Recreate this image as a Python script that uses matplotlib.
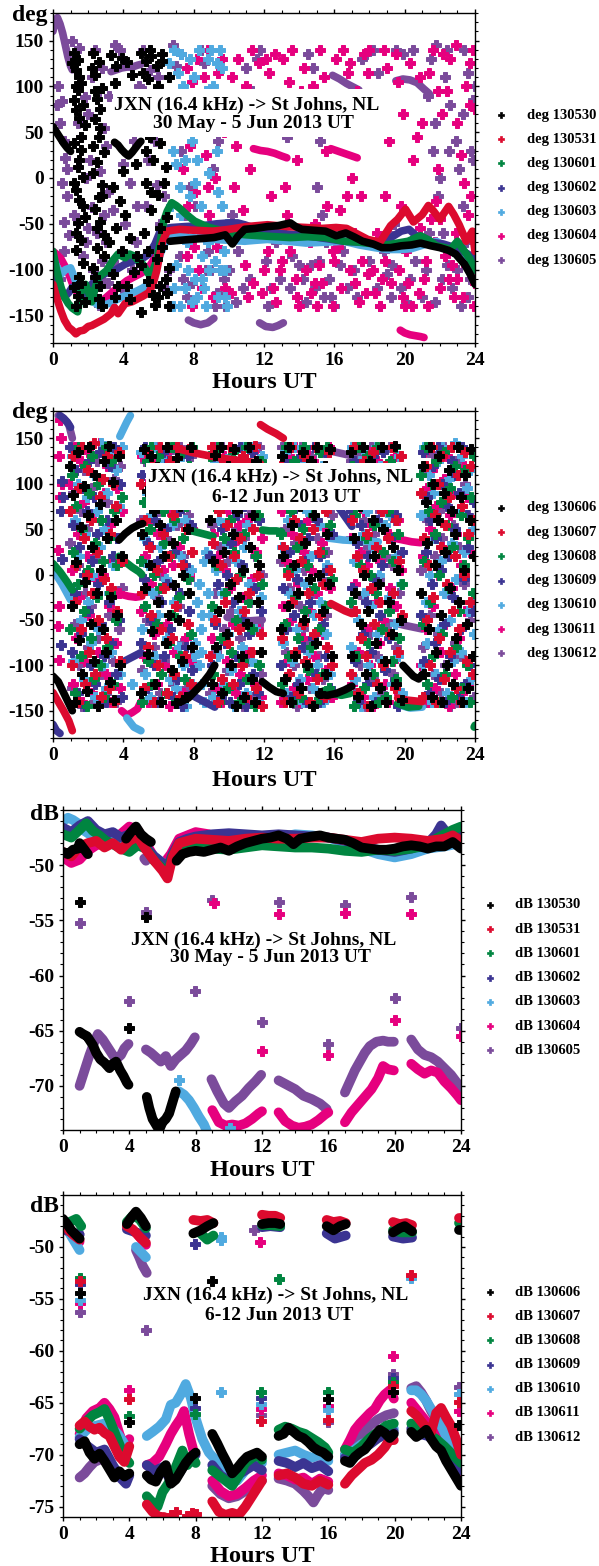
import numpy as np
import matplotlib
matplotlib.use('Agg')
import matplotlib.pyplot as plt
from matplotlib.lines import Line2D
from matplotlib.patches import Rectangle
from matplotlib.ticker import MultipleLocator, FixedLocator

plt.rcParams['font.family'] = ['Liberation Serif', 'DejaVu Serif']
plt.rcParams['font.weight'] = 'bold'
plt.rcParams['axes.unicode_minus'] = False

W, H = 599, 1566

# series colours, same order for both weeks
series_colors = ['#000000', '#DC0A2E', '#008540', '#3B3492', '#50AAE0', '#E6007E', '#7B4B9B']
days_a = ['130530', '130531', '130601', '130602', '130603', '130604', '130605']
days_b = ['130606', '130607', '130608', '130609', '130610', '130611', '130612']

deg_yticks = [-150, -100, -50, 0, 50, 100, 150]
db_a_yticks = [-70, -65, -60, -55, -50]
db_b_yticks = [-75, -70, -65, -60, -55, -50]

# ---------------- phase, 30 May - 5 Jun ----------------
deg_a_track_130530 = [
    [(0.0, 56), (0.2, 50), (0.4, 44), (0.6, 38), (0.8, 33), (1.0, 29)],
    [(3.5, 39), (3.7, 36), (3.9, 31), (4.1, 27), (4.3, 24), (4.5, 28), (4.7, 33), (4.9, 38), (5.0, 40)],
    [(6.65, -69), (7.2, -68), (7.84, -67), (8.5, -66), (9.15, -65), (9.8, -62), (10.2, -72), (10.5, -64),
     (10.9, -56), (11.5, -55), (12.2, -53), (12.8, -52), (13.5, -49), (13.8, -53), (14.15, -56), (14.8, -57),
     (15.5, -58), (16.1, -63), (16.65, -60), (17.1, -64), (17.6, -69), (18.2, -72), (18.7, -76), (19.2, -76),
     (19.8, -74), (20.4, -73), (20.9, -71), (21.5, -74), (22.0, -76), (22.5, -79), (22.9, -83), (23.4, -94),
     (23.7, -104), (24.0, -116)],
]
deg_a_track_130531 = [
    [(0.0, -116), (0.2, -130), (0.45, -145), (0.65, -155), (0.9, -163), (1.1, -166), (1.3, -170), (1.5, -167),
     (1.75, -166), (2.0, -162), (2.2, -161), (2.6, -157), (2.9, -154), (3.3, -148), (3.5, -141), (3.7, -148),
     (4.1, -137), (4.5, -135), (4.8, -132), (5.1, -129), (5.45, -125), (5.7, -115), (5.9, -101), (6.05, -86),
     (6.2, -72), (6.35, -64), (6.5, -58), (6.8, -57), (7.2, -56), (8.0, -57), (9.1, -58), (10.0, -56),
     (11.0, -53), (12.2, -51), (13.3, -53), (14.4, -54), (15.3, -55), (16.1, -54), (16.7, -55), (17.3, -61),
     (17.9, -67), (18.6, -70), (19.2, -52), (19.6, -45), (20.05, -34), (20.5, -48), (21.0, -40), (21.35, -30),
     (21.6, -35), (22.0, -45), (22.5, -31), (22.8, -40), (23.1, -51), (23.5, -69), (23.85, -58), (24.0, -80)],
]
deg_a_track_130601 = [
    [(0.0, -80), (0.2, -100), (0.45, -119), (0.65, -130), (0.87, -137), (1.1, -142), (1.4, -146), (1.63, -119),
     (1.85, -116), (2.05, -126), (2.2, -135), (2.4, -120), (2.6, -108), (3.05, -101), (3.4, -90), (3.7, -83),
     (4.1, -87), (4.35, -83), (4.6, -85), (4.85, -90), (5.1, -94), (5.45, -105), (5.7, -100), (5.9, -90),
     (6.1, -70), (6.3, -47), (6.5, -36), (6.75, -27), (7.0, -30), (7.2, -33), (7.6, -40), (8.05, -47),
     (8.5, -51), (8.9, -54), (9.5, -57), (10.0, -60), (11.0, -62), (11.8, -63), (12.6, -64), (13.5, -65),
     (14.5, -64), (15.5, -65), (16.55, -69), (17.4, -70), (18.3, -72), (19.0, -73), (19.6, -71), (20.2, -69),
     (20.9, -63), (21.4, -68), (21.8, -74), (22.3, -76), (22.6, -78), (23.0, -69), (23.4, -80), (23.7, -88),
     (24.0, -101)],
]
deg_a_track_130602 = [
    [(0.0, -98), (0.3, -114), (0.65, -130), (0.9, -125), (1.1, -119), (1.4, -122), (1.75, -126), (2.2, -116),
     (2.6, -108), (3.0, -104), (3.5, -101), (4.1, -94), (4.5, -91), (4.8, -89), (5.15, -87), (5.45, -83),
     (5.8, -72), (6.1, -58), (6.4, -55), (6.75, -54), (7.5, -53), (8.5, -52), (9.3, -50), (10.0, -49),
     (10.5, -49), (10.9, -51), (11.5, -55), (12.2, -58), (13.3, -61), (14.4, -63), (15.5, -66), (16.55, -69),
     (17.6, -70), (18.7, -71), (19.3, -64), (19.8, -58), (20.25, -56), (20.6, -62), (20.9, -69), (21.5, -70),
     (22.2, -72), (22.7, -75), (23.1, -78), (23.6, -83), (24.0, -89)],
]
deg_a_track_130603 = [
    [(0.0, -87), (0.2, -96), (0.45, -105), (0.7, -100), (1.0, -98), (1.2, -108), (1.4, -119), (1.7, -125),
     (2.0, -130), (2.3, -135), (2.6, -139), (3.0, -138), (3.3, -136), (3.6, -133), (3.9, -130), (4.3, -127),
     (4.8, -123), (5.1, -120), (5.45, -116), (5.8, -102), (6.1, -83), (6.4, -70), (6.75, -62), (7.2, -63),
     (7.84, -65), (8.5, -66), (9.15, -67), (10.0, -68), (10.9, -69), (11.5, -68), (12.2, -67), (13.3, -69),
     (14.4, -71), (15.5, -70), (16.55, -69), (17.4, -73), (18.3, -76), (19.0, -78), (19.8, -78), (20.4, -77),
     (20.9, -74), (21.4, -71), (21.8, -69), (22.3, -74), (22.7, -77), (23.1, -81), (23.6, -87), (24.0, -94)],
]
deg_a_track_130604 = [
    [(0.0, -80), (0.2, -83), (0.45, -88), (0.7, -97), (0.9, -105), (1.1, -115), (1.3, -123), (1.6, -128),
     (1.9, -131), (2.2, -127), (2.5, -131), (2.8, -134), (3.1, -129), (3.4, -124), (3.8, -118), (4.2, -112),
     (4.6, -108), (5.0, -104), (5.4, -99), (5.7, -90), (6.0, -78), (6.3, -64), (6.6, -58)],
    [(11.4, 32), (11.8, 30), (12.2, 29), (12.6, 27), (13.0, 24), (13.3, 22)],
    [(15.8, 32), (16.1, 30), (16.4, 28), (16.7, 26), (17.0, 24), (17.3, 22)],
    [(19.75, -166), (20.0, -169), (20.3, -171), (20.6, -172), (20.9, -173), (21.1, -174)],
]
deg_a_track_130605 = [
    [(0.0, 160), (0.1, 172), (0.25, 175), (0.4, 168), (0.55, 158), (0.7, 145), (0.85, 132), (1.0, 122), (1.1, 118)],
    [(3.3, 116), (3.6, 118), (3.9, 120), (4.2, 121), (4.5, 121), (4.8, 123), (5.0, 124)],
    [(7.7, -155), (8.0, -158), (8.4, -160), (8.8, -158), (9.15, -153)],
    [(11.75, -158), (12.1, -162), (12.5, -163), (12.8, -161), (13.1, -158)],
    [(15.9, 112), (16.3, 108), (16.7, 103), (17.1, 99), (17.4, 96)],
    [(19.5, 106), (19.9, 108), (20.3, 107), (20.7, 104), (21.1, 97), (21.4, 92)],
]

deg_a_pts_130530 = [
    (1.2, 136), (1.4, 129), (1.3, 118), (1.5, 110), (1.6, 104), (1.4, 96), (1.7, 80), (1.3, 74), (1.5, 66),
    (1.8, 58), (1.2, 38), (1.6, 31), (1.4, 12), (1.7, 1), (1.3, -13), (1.5, -24), (1.8, -42), (1.4, -49),
    (1.6, -68), (1.3, -79), (1.7, -93), (1.5, -108), (1.2, -119), (1.4, -129), (1.3, -140),
    (2.3, 136), (2.6, 126), (2.4, 112), (2.8, 98), (2.5, 86), (2.7, 75), (2.4, 64), (2.6, 45), (2.9, 28),
    (2.5, 18), (2.3, 5), (2.8, -8), (2.6, -21), (2.4, -34), (2.7, -48), (2.9, -62), (2.5, -76), (2.3, -98),
    (2.7, -118), (2.6, -132),
    (3.3, 134), (3.6, 122), (3.9, 131), (4.2, 127), (3.5, 104), (4.5, 112), (3.4, -10), (3.8, -25),
    (4.1, -40), (3.6, -55), (4.4, -65), (3.9, -80), (4.6, -102), (4.2, -118), (3.5, -130), (4.0, 8), (4.7, 15),
    (5.0, 136), (5.3, 128), (5.6, 133), (5.9, 122), (6.2, 128), (5.4, 108), (6.0, 100), (5.2, 80), (5.8, 72),
    (6.3, 60), (5.5, 45), (6.1, 38), (5.7, 20), (6.4, 12), (5.3, -5), (6.0, -18), (5.6, -35), (6.5, -42),
    (5.2, -60), (6.2, -75), (5.9, -88), (6.6, -98), (5.4, -112), (6.1, -118), (6.6, -140), (5.7, -128), (5.0, -146),
    (1.1, 125), (1.3, 100), (1.2, 85), (1.6, 45), (1.5, 20), (1.2, -5), (1.7, -30), (1.3, -60), (1.6, -115),
    (1.8, -135), (2.2, 120), (2.4, 95), (2.7, 55), (2.3, 35), (2.8, -20), (2.5, -55), (2.9, -85), (2.4, -108),
    (2.8, -140), (3.2, -70), (3.4, -105), (3.7, -118), (4.4, -132), (4.8, -85), (5.1, 115), (5.5, 140),
    (5.8, 95), (6.0, 55), (5.3, 30), (6.3, -5), (5.6, -15), (6.1, -55), (5.4, -80), (6.4, -110), (5.8, -138),
    (6.5, -125), (6.2, 135), (6.6, 110), (5.0, -95), (6.0, -130),
]
deg_a_pts_130603 = [
    (6.6, 125), (6.9, 140), (7.1, 115), (7.4, 100), (6.8, 30), (7.0, 15), (7.2, -10), (6.7, -30), (7.3, -40),
    (7.0, -95), (7.5, -120), (7.8, 130), (8.0, 110), (7.9, 40), (8.2, 20), (8.1, -5), (8.4, -30), (8.3, -55),
    (7.7, -100), (8.5, -110), (8.6, -120), (8.8, -70), (8.2, -130), (9.0, 140), (9.3, 125), (9.1, 100),
    (9.4, -15), (9.6, -30), (9.2, -90), (9.5, -100), (9.8, -130), (9.9, -140), (9.7, -80), (8.7, -140), (8.9, 5),
    (6.6, -60), (6.9, -120), (7.1, 60), (7.3, 135), (7.6, -70), (7.9, -135), (8.0, 70), (8.3, 140), (8.5, -85),
    (8.7, 95), (8.9, -100), (9.1, -60), (9.3, 30), (9.4, -130), (9.6, 120), (9.8, -100), (9.9, -50), (7.5, 20),
    (6.8, -140), (8.1, -110), (9.0, 60), (7.2, -140), (9.5, 140), (8.8, 130), (7.8, -20),
]
deg_a_pts_130604 = [
    (7.3, 135), (7.6, 120), (7.9, 105), (7.5, 90), (8.0, 60), (7.8, 35), (7.4, 10), (8.1, -15), (7.7, -30),
    (8.3, -100), (8.5, -120), (8.2, 130), (8.8, 140), (8.6, 110), (9.0, 95), (8.7, 25), (9.2, 0), (8.9, -40),
    (9.5, -100), (9.3, -75), (9.8, -120), (9.6, 130),
    (10.0, 60), (10.2, 110), (10.5, 130), (10.3, -10), (10.6, -60), (10.9, -95), (11.1, -130), (11.4, -115),
    (11.0, 100), (11.3, 140), (11.7, 125), (12.0, -100), (12.2, -80), (12.5, -120), (12.8, -60), (12.3, 115),
    (12.6, 135), (12.9, 90), (13.1, 130), (13.4, 105), (13.2, -10), (13.5, -80), (13.8, -110), (14.0, -140),
    (13.7, 60), (14.1, 95), (14.3, 120),
    (14.4, -100), (14.6, -70), (14.9, -50), (14.7, -125), (15.0, -140), (15.2, 140), (15.4, 110), (15.6, -30),
    (15.8, -60), (16.0, -90), (16.2, -75), (16.4, -120), (16.1, 130), (16.5, 140), (16.8, 115), (16.7, -20),
    (17.0, 0), (17.2, -115), (17.4, -135), (17.6, -90), (17.9, 115), (17.7, 135), (18.0, 140),
    (18.3, -125), (18.6, -140), (18.4, -60), (18.9, -20), (19.1, 40), (19.3, 75), (19.0, 120), (19.5, 135),
    (19.7, -100), (19.9, -130), (20.1, -80), (20.2, -115), (20.4, -140), (20.5, 20), (20.7, 45), (20.9, -55),
    (21.1, -110), (21.2, -90), (21.4, 115), (21.6, 140), (21.9, 95), (22.1, 70), (21.8, -25), (22.0, -45),
    (22.3, -85), (22.5, -110), (22.8, -130), (22.6, 130), (22.9, 145), (23.0, 60), (23.2, 25), (23.4, -5),
    (23.6, -40), (23.8, -20), (23.5, 100), (23.7, 125), (23.9, -85), (24.0, 75), (23.95, -140), (23.85, -100),
    (7.4, -60), (7.6, -85), (7.9, -140), (8.0, -75), (8.3, 70), (8.5, 85), (8.8, -10), (9.1, -130), (9.4, 115),
    (9.7, 50), (9.9, -55), (10.1, -125), (10.4, 35), (10.7, 90), (10.8, -35), (11.2, 10), (11.5, -60), (11.8, 75),
    (12.1, 130), (12.4, -20), (12.7, -135), (13.0, -90), (13.3, -40), (13.6, 140), (13.9, 20), (14.2, -60),
    (14.5, 70), (14.8, 100), (15.1, -95), (15.3, -115), (15.5, 30), (15.7, 85), (15.9, -140), (16.3, -35),
    (16.6, 60), (16.9, -100), (17.1, -60), (17.3, 95), (17.5, -20), (17.8, -125), (18.1, -70), (18.2, -100),
    (18.5, 90), (18.7, -110), (18.8, 140), (19.2, -115), (19.4, -75), (19.6, 105), (19.8, -30), (20.0, -140),
    (20.3, 125), (20.6, -65), (20.8, -125), (21.0, 60), (21.3, -140), (21.5, -45), (21.7, -70), (22.0, -120),
    (22.2, 135), (22.4, 95), (22.7, -95), (23.0, -110), (23.1, -75), (23.3, -130), (23.5, -95), (23.7, 80),
    (23.9, 140), (24.0, -115), (22.9, -60), (21.9, 10), (20.9, 110), (19.9, 70), (18.9, -90), (17.9, -105),
    (16.9, 125), (15.9, -80), (14.9, -115), (13.9, -130), (12.9, -100), (11.9, -125),
]
deg_a_pts_130605 = [
    (0.3, 100), (0.5, 84), (0.4, 60), (0.6, 40), (0.7, 22), (0.5, -5), (0.8, -20), (0.6, -48), (0.9, -62), (0.4, -110),
    (1.1, 150), (1.5, 142), (1.8, 88), (2.0, 70), (1.6, 45), (2.1, 20), (1.9, 0), (2.2, -32), (2.0, -55),
    (1.7, -85), (2.3, -100), (2.0, -125), (2.4, 140), (2.8, 120), (2.6, 95), (2.9, 55), (3.0, 35), (2.7, 8),
    (3.1, -15), (2.9, -40), (3.0, -70), (2.8, -90), (3.1, -115), (2.6, -138),
    (3.5, 145), (3.8, 140), (4.3, 55), (4.6, 40), (4.0, 15), (4.4, -5), (4.8, -30), (4.1, -50), (4.7, -70),
    (5.1, 140), (5.5, 118), (5.2, 95), (5.7, 65), (5.4, 20), (5.9, -8), (6.1, -50), (6.4, -120), (6.6, -100),
    (6.8, 145), (7.0, 122),
    (7.2, -85), (7.4, -110), (7.6, -130), (7.5, -40), (7.8, -10), (7.3, 30), (7.7, 60), (8.2, 90), (8.6, 125),
    (8.4, 140), (8.8, -80), (9.0, -100), (9.3, -125), (8.5, -60), (9.1, 10), (9.4, 40), (9.6, 130), (9.8, -140),
    (9.7, -110),
    (10.2, -40), (10.5, -80), (10.8, -120), (11.0, 120), (11.3, 95), (11.6, 130), (12.1, -90), (12.4, -120),
    (12.7, -70), (13.0, 60), (13.3, 45), (13.6, -85), (13.9, -130), (14.2, -110),
    (14.5, 135), (14.8, 120), (15.0, 70), (15.2, 40), (15.0, -10), (15.3, -40), (15.5, -70), (14.7, -95),
    (15.8, -130), (16.3, -95), (16.7, -120), (17.1, -100), (17.3, -130), (17.5, 60), (17.8, 85), (17.6, 130),
    (18.2, 140), (18.5, 115), (18.8, -80), (19.0, -105), (19.2, -130), (19.4, -50), (19.6, -75), (19.9, 135),
    (20.3, -110), (20.6, -90), (21.0, -130), (21.3, 90), (21.5, 130), (21.8, 145), (21.7, 60), (21.6, 30),
    (22.0, 0), (21.9, -20), (22.2, -60), (22.4, -95), (22.7, -120), (22.3, 110), (22.6, 80), (22.9, 40),
    (23.1, 10), (23.3, -30), (23.5, -70), (23.7, -110), (23.4, 140), (23.6, 115), (23.9, 85), (23.8, 30),
    (24.0, -60), (23.2, -140),
    (0.2, 80), (0.6, -80), (0.8, 10), (1.2, -40), (1.4, 60), (1.6, -120), (1.9, -70), (2.2, 110), (2.5, -60),
    (2.7, -110), (3.2, 90), (3.4, -35), (3.6, -95), (3.9, -120), (4.2, 80), (4.5, -100), (4.9, 100), (5.3, -30),
    (5.6, -80), (5.8, 40), (6.0, 110), (6.3, -20), (6.7, -140), (7.0, -60), (7.9, -115), (8.1, -30), (8.7, -100),
    (9.2, -140), (9.5, 80), (10.0, -100), (10.4, -135), (10.7, -60), (11.2, -110), (11.8, 140), (12.2, -140),
    (12.9, -110), (13.5, -120), (14.0, -95), (14.4, -135), (14.9, -120), (15.1, -90), (15.4, -130), (15.7, -110),
    (16.0, -140), (16.5, -80), (17.0, -60), (17.2, -115), (17.8, 135), (18.0, -90), (18.4, -120), (18.6, -140),
    (19.1, -60), (19.3, -95), (19.5, 140), (19.8, -120), (20.1, -135), (20.5, 140), (21.2, -100), (21.4, -60),
    (21.7, -135), (22.1, -110), (22.5, 30), (22.8, -80), (23.0, -100), (23.3, 70), (23.6, -130), (23.8, -90),
    (23.9, 20), (24.0, 100), (22.4, 140),
]

deg_a_tracks = [deg_a_track_130530, deg_a_track_130531, deg_a_track_130601, deg_a_track_130602,
                deg_a_track_130603, deg_a_track_130604, deg_a_track_130605]
deg_a_pts = [deg_a_pts_130530, [], [], [], deg_a_pts_130603, deg_a_pts_130604, deg_a_pts_130605]

# ---------------- phase, 6-12 Jun ----------------
# hours where the phase is scattered; values are evenly spaced in time across each span
deg_b_spans = [(0.95, 3.95), (4.95, 7.95), (8.9, 11.95), (12.9, 15.9), (16.9, 19.9), (20.9, 24.0)]

deg_b_scatter_130606 = [
    [120, -35, 88, -140, 14, 135, -72, 52, -110, 97, -8, -128, 66, 140, -55, 30, -95, 110, -20, -145, 78, 5, -60, 125, -85, 40, 142, -118, -25, 102, -138, 60, -45, 130, -100, 20],
    [-130, 45, 138, -15, 92, -88, 10, 130, -62, 70, -120, 118, -30, 55, -140, 102, 20, -75, 140, -45, 85, -105, 35, -12, -142, 128, -50, 75, -95, 0, 112, -135, 50, -20, 140, -80],
    [60, -120, 15, 132, -80, 100, -40, 140, -130, 25, 80, -65, 120, -10, -100, 45, 138, -145, 70, -25, 110, -90, 5, -135, 90, -55, 140, 30, -115, 65, -140, 125, -30, 10, -85, 105],
    [-60, 130, 20, -115, 95, -35, 140, -140, 55, 10, -90, 115, -20, 75, -125, 135, -50, 35, -100, 100, -5, 125, -145, 65, -75, 140, 0, -130, 85, -40, 120, -110, 45, -10, 138, -90],
    [135, -90, 40, -20, 110, -135, 75, -55, 140, 0, -110, 90, -40, 125, -145, 60, 20, -75, 105, -10, -125, 140, 50, -95, -140, 80, -30, 115, -65, 30, 142, -120, 5, 95, -50, -138],
    [-20, 120, -110, 80, 35, -60, 140, -135, 100, 10, -85, 60, 130, -45, -140, 90, 25, -100, 115, -15, 70, -120, 45, -70, 140, -30, 85, -140, 5, 110, -55, -125, 60, 138, -90, 20],
]
deg_b_scatter_130607 = [
    [70, -100, 130, -30, 10, -140, 95, -60, 140, 40, -120, 0, 115, -85, 60, -20, 145, -110, 25, -50, 85, -135, 105, -5, -70, 130, -125, 45, -15, 100, -140, 75, -40, 135, -95, 15],
    [100, -20, -125, 60, 135, -80, 30, -45, 120, -140, 75, 5, -100, 140, -60, 45, -15, 90, -130, 20, 125, -70, 65, -110, -35, 140, 85, -135, 10, 110, -90, 50, -55, 138, -120, 25],
    [-90, 140, 35, -50, 100, -140, 70, 10, -115, 125, -30, 55, -75, 140, 90, -120, 20, -5, 110, -60, 40, -100, 130, -40, -135, 80, -20, 115, -85, 50, 142, -125, 0, 95, -65, -145],
    [120, -70, 30, -140, 85, 0, -110, 140, -30, 60, -85, 105, -130, 40, 15, -55, 130, -95, 80, -20, -140, 95, 50, -65, 140, -115, 25, -45, 110, -10, -135, 70, -80, 135, 5, -100],
    [-110, 60, 140, -40, 20, -130, 100, -70, 5, 125, -90, 45, -145, 80, -15, 135, -55, 30, -120, 110, -30, 70, -100, 120, -140, 40, 90, -65, 140, -20, -125, 60, -85, 15, 130, -45],
    [90, -135, 40, 120, -50, 10, -100, 140, -25, 65, -140, 100, -70, 30, 130, -115, 55, -10, 85, -85, 140, -40, 20, -125, 110, -60, -140, 75, 0, 135, -95, 45, -30, 120, -110, 60],
]
deg_b_scatter_130608 = [
    [-60, 110, 25, -130, 75, -10, 140, -90, 50, -40, 120, -145, 5, 90, -70, 130, -115, 35, -25, 100, -100, 60, 15, -135, 140, -80, 40, -20, 125, -120, 70, -50, 10, 135, -95, 85],
    [15, -140, 80, -35, 125, -95, 50, 140, -120, 0, 95, -55, 130, -15, -110, 70, 35, -130, 110, -75, 20, 140, -45, 60, -140, 100, -25, -90, 135, 40, -115, 75, -5, 120, -65, 140],
    [130, -35, -110, 75, 10, 140, -140, -70, 95, 40, -20, 120, -125, 60, -85, 135, 25, -50, 105, -140, 0, 80, -95, 45, 140, -115, -30, 90, -60, 115, -145, 20, 65, -100, 125, -10],
    [45, -120, 110, -55, 140, 5, -90, 70, -140, 125, -25, 30, -70, 95, -135, 50, 140, -40, 10, -105, 120, -80, 65, -15, -140, 100, -60, 135, 25, -110, 80, -35, 140, -125, 55, -5],
    [-30, 120, -145, 65, -90, 140, 10, -55, 95, -125, 40, 130, -75, 0, 110, -110, 55, -20, 140, -140, 80, -60, 25, 100, -135, 70, -40, 125, -95, 15, 140, -115, 45, -70, 105, -10],
    [110, -55, 15, 140, -120, 70, -30, 100, -90, 45, 125, -140, 0, 80, -65, 135, -110, 55, -15, 95, -135, 30, 120, -80, 140, -40, 65, -125, 10, 115, -100, 40, -140, 85, -20, 130],
]
deg_b_scatter_130609 = [
    [140, -85, 55, -20, 115, -130, 30, -65, 95, 0, -145, 70, -40, 125, -100, 15, 85, -120, 45, -10, 135, -55, 105, -90, -140, 60, -30, 120, -75, 20, 140, -110, 40, -50, 100, -135],
    [-75, 110, -5, 140, -125, 35, 85, -50, 120, -100, 60, -140, 15, 100, -30, 135, -90, 50, -10, 125, -60, 80, -135, 25, 140, -115, 70, -20, -145, 95, 10, -80, 130, -40, 55, -105],
    [20, -100, 130, -55, 85, -10, 140, -135, 50, 115, -75, 0, 95, -140, 35, -30, 125, -90, 65, -120, 140, 10, -50, 75, -145, 105, -65, 30, 135, -110, -15, 90, -130, 60, -40, 120],
    [-100, 85, -15, 125, -60, 140, 25, -135, 70, -45, 110, -5, -120, 55, 130, -80, 15, 95, -140, 40, -30, 115, -70, 140, -110, 60, -140, 20, 100, -55, 135, -90, 5, 75, -125, 45],
    [70, -15, 125, -95, 35, -140, 140, 55, -65, 100, -30, -120, 20, 85, -85, 130, -5, -140, 60, 115, -45, 10, 135, -105, -135, 90, -70, 40, 140, -20, -115, 65, -145, 110, -50, 25],
    [-45, 135, -95, 25, 85, -130, 60, -10, 120, -75, 40, 140, -115, 5, 100, -55, -140, 75, 20, -90, 125, -25, 50, 110, -135, 90, -60, 140, -5, -120, 65, 30, -100, 135, -40, 80],
]
deg_b_scatter_130610 = [
    [-15, 130, -95, 60, -140, 100, 20, -50, 140, -115, 45, 85, -30, 125, -75, 0, 110, -135, 70, -60, 30, 145, -100, 50, -125, 90, -20, 135, -85, 10, -140, 115, -45, 75, -110, 140],
    [135, -60, 40, -110, 90, 10, -135, 65, -20, 140, -90, 115, -45, 30, -140, 80, 125, -5, -70, 100, -115, 55, 140, -30, -125, 85, -80, 20, 130, -100, 60, -145, 110, -40, 5, -120],
    [-45, 80, -135, 125, 5, -90, 60, 140, -20, -120, 100, 35, -65, 130, -105, 75, -145, 15, 120, -40, 90, -80, 140, 30, -130, 55, -10, 110, -95, 140, -60, 20, -140, 85, -25, 130],
    [95, 30, -75, 135, -130, 60, -20, 115, -95, 140, 5, -60, 85, -115, 40, -140, 125, -10, 70, -85, 100, 20, -125, -45, 140, -100, 55, -30, 120, -140, 80, -65, 10, 135, -110, 45],
    [-80, 140, 15, -115, 90, -50, 125, -145, 45, -20, 135, 70, -100, 105, -35, 30, -135, 140, -65, 0, 120, -95, 85, 55, -140, 110, -25, 65, -120, 140, -55, 20, -90, 130, -10, -130],
    [65, -100, 140, -30, -75, 110, 0, -140, 90, 40, -110, 125, -60, 15, 140, -20, 80, -130, 105, -50, 35, -95, 145, -5, -125, 70, -85, 130, 25, -140, 95, -40, 115, -115, 50, -65],
]
deg_b_scatter_130611 = [
    [100, 5, -120, 140, -70, 45, -25, 125, -140, 80, -95, 20, 135, -45, 65, -130, 110, -5, 30, -85, 145, -60, 0, 90, -110, 120, -35, 55, -140, 15, 130, -75, 95, -20, -125, 70],
    [-40, 130, -90, 20, 100, -140, 60, -10, 140, -65, 125, -120, 45, -30, 90, 5, -100, 135, -55, 70, -145, 115, 10, -85, 140, -115, 30, -20, 105, -130, 75, -70, 135, 0, -95, 50],
    [110, -70, 45, 140, -125, 20, -40, 90, -140, 130, 5, -95, 70, -15, 125, -55, 35, -130, 100, 55, -110, 140, -25, 80, -140, 60, -85, 115, -5, 135, -120, 25, -60, 95, -135, 40],
    [-140, 70, -35, 100, 15, -95, 130, -50, 45, -125, 140, 80, -10, -140, 110, -70, 25, 135, -115, 60, -40, 5, 125, -90, 140, -20, 90, -130, 35, -65, 120, -105, 50, 140, -15, -135],
    [40, -120, 100, -10, 140, -85, 25, 115, -135, 70, -60, 10, 135, -100, 55, -145, 90, -30, 125, -75, 15, 140, -50, -120, 80, -140, 45, -15, 110, -95, 130, -35, 60, -130, 5, 95],
    [-100, 20, 135, -60, 95, -140, 50, 115, -35, -125, 75, 0, 140, -85, 30, 105, -55, 130, -145, 65, -15, 90, -110, 45, 140, -70, 10, -130, 120, -40, 85, -120, 25, 135, -90, 60],
]
deg_b_scatter_130612 = [
    [35, -125, 90, -55, 130, 10, -100, 70, -145, 115, -20, 50, -80, 140, -35, 95, -140, 20, 125, -70, 60, -110, 140, -5, -130, 80, -45, 135, 15, -95, 105, -140, 40, -60, 120, -15],
    [60, -105, 15, 125, -50, 90, -140, 30, 105, -80, 140, -25, 70, -130, 0, 120, -95, 40, -60, 135, -10, 85, -120, 110, -140, 55, -35, 140, -75, 20, 100, -125, 65, -5, 130, -90],
    [-130, 55, 120, -20, -85, 100, 30, -140, 140, -60, 75, -105, 15, 110, -40, 135, -125, 50, -5, 90, -70, 125, -145, 40, 140, -95, 65, -30, 115, -135, 20, 85, -55, 140, -110, 0],
    [15, 140, -130, 50, -85, 100, -15, 70, 125, -100, 35, -145, 90, -35, 140, -60, 5, 115, -75, 60, -125, 130, -20, 80, -140, 40, -90, 135, -5, -115, 105, -45, 25, 140, -135, 65],
    [125, -40, 80, -130, 15, 105, -100, 135, -25, 60, -145, 90, 30, -65, 140, -115, 45, 115, -90, -5, 70, -130, 100, 20, -140, 85, -55, 140, 10, -110, 60, -80, 130, -20, -135, 95],
    [5, -80, 115, -140, 60, 135, -45, 90, -110, 20, 130, -65, 70, -130, 40, 140, -100, 85, -20, -145, 110, 55, -75, 125, -140, 30, -90, 140, -10, 100, -120, 65, -50, 135, -30, -135],
]

deg_b_track_130606 = [
    [(0.0, -112), (0.3, -118), (0.6, -130), (0.9, -142), (1.1, -150)],
    [(3.75, 38), (4.1, 45), (4.5, 51), (4.9, 55), (5.1, 56)],
    [(7.3, -140), (7.7, -136), (8.1, -128), (8.5, -120), (8.9, -110), (9.2, -100)],
    [(11.9, -118), (12.3, -124), (12.7, -129), (13.1, -131)],
    [(15.1, -132), (15.6, -133), (16.1, -131), (16.6, -127), (17.0, -123)],
    [(19.9, -100), (20.2, -106), (20.5, -112), (20.8, -115), (21.0, -110)],
]
deg_b_track_130607 = [
    [(0.0, -130), (0.3, -140), (0.6, -150), (0.9, -161), (1.1, -172)],
    [(7.2, 138), (8.0, 134), (8.8, 131), (9.6, 128), (10.4, 126), (11.2, 124), (11.8, 122)],
    [(11.8, 165), (12.2, 160), (12.7, 155), (13.1, 150)],
    [(15.8, -32), (16.2, -36), (16.6, -40), (17.0, -43)],
    [(19.6, -136), (20.0, -138), (20.5, -139), (21.0, -140)],
]
deg_b_track_130608 = [
    [(0.0, 12), (0.4, 3), (0.8, -8), (1.1, -17)],
    [(3.75, 20), (4.1, 14), (4.5, 8), (4.9, 3), (5.05, 0)],
    [(7.9, 48), (8.3, 46), (8.7, 44), (9.1, 42)],
    [(11.9, 49), (12.3, 48), (12.7, 48), (13.0, 47)],
    [(15.4, -128), (15.9, -131), (16.4, -133), (16.9, -131)],
    [(19.6, -142), (20.2, -146), (20.8, -145)],
    [(23.95, -168), (24.0, -166)],
]
deg_b_track_130609 = [
    [(0.0, -165), (0.2, -172), (0.4, -175)],
    [(0.4, 175), (0.6, 172), (0.8, 168), (1.0, 162)],
    [(3.8, -98), (4.2, -94), (4.6, -90), (5.0, -86)],
    [(7.8, -132), (8.3, -137), (8.8, -142), (9.2, -146)],
    [(15.7, 86), (16.2, 75), (16.6, 64), (17.0, 53)],
]
deg_b_track_130610 = [
    [(0.0, 5), (0.5, -10), (1.0, -28)],
    [(3.8, 152), (4.0, 160), (4.2, 168), (4.4, 175)],
    [(4.2, -158), (4.6, -168), (5.0, -172)],
    [(15.7, 40), (16.5, 38), (17.5, 37), (18.5, 36)],
    [(19.6, -143), (20.3, -147), (21.0, -146)],
]
deg_b_track_130611 = [
    [(3.9, -150), (4.2, -155), (4.5, -152), (4.8, -148), (5.0, -140)],
    [(3.9, -22), (4.3, -24), (4.7, -25), (5.05, -24)],
    [(19.4, 40), (19.9, 38), (20.4, 36), (20.9, 35)],
]
deg_b_track_130612 = [
    [(0.3, 175), (0.6, 172), (0.9, 165), (1.1, 150)],
    [(9.9, -47), (10.5, -50), (11.2, -51), (11.9, -50)],
    [(15.3, 138), (16.0, 135), (16.7, 132), (17.2, 130)],
    [(19.4, -53), (20.0, -56), (20.5, -58), (21.0, -60)],
]

deg_b_pts_130609 = [(0.5, 103), (0.45, 70), (0.5, 17), (0.45, -78), (0.55, 85)]
deg_b_pts_130610 = [(8.2, -30), (8.4, -60), (8.1, -75), (8.3, -100), (8.5, -45), (8.6, 15), (8.7, 25),
                    (8.5, -120), (8.3, -10), (8.0, -90), (4.5, -121), (8.8, -20), (8.6, -140), (8.4, -85)]
deg_b_pts_130611 = [(0.4, 170), (0.45, 150), (0.35, 130), (0.5, 100), (0.4, 85), (0.3, 27), (0.35, -35),
                    (0.3, -57), (0.35, -94)]

deg_b_scatter = [deg_b_scatter_130606, deg_b_scatter_130607, deg_b_scatter_130608, deg_b_scatter_130609,
                 deg_b_scatter_130610, deg_b_scatter_130611, deg_b_scatter_130612]
deg_b_tracks = [deg_b_track_130606, deg_b_track_130607, deg_b_track_130608, deg_b_track_130609,
                deg_b_track_130610, deg_b_track_130611, deg_b_track_130612]
deg_b_pts = [[], [], [], deg_b_pts_130609, deg_b_pts_130610, deg_b_pts_130611, []]

# ---------------- amplitude, 30 May - 5 Jun ----------------
db_a_track_130530 = [
    [(0.0, -48.8), (0.3, -49.0), (0.6, -48.6), (0.9, -48.5), (1.0, -48.0), (1.2, -48.4), (1.5, -49.0)],
    [(1.0, -65.1), (1.2, -65.3), (1.45, -65.5), (1.8, -66.3), (2.0, -67.0), (2.25, -67.6), (2.5, -67.9),
     (2.8, -68.4), (3.0, -68.0), (3.2, -67.8), (3.45, -68.6), (3.65, -69.1), (3.85, -69.7), (3.95, -69.9)],
    [(3.8, -47.6), (4.1, -47.0), (4.4, -46.5), (4.7, -47.2), (5.0, -47.6), (5.3, -47.9)],
    [(5.05, -71.0), (5.2, -72.0), (5.4, -73.0), (5.6, -73.5), (5.8, -74.0), (6.0, -73.3), (6.2, -73.0),
     (6.4, -72.5), (6.6, -71.5), (6.8, -70.5)],
    [(6.85, -49.6), (7.2, -49.0), (7.6, -48.8), (8.0, -48.7), (8.5, -48.8), (9.0, -48.6), (9.5, -48.4),
     (10.0, -48.7), (10.5, -48.3), (11.0, -48.0), (11.5, -47.8), (12.0, -47.6), (12.5, -47.5), (13.0, -47.3),
     (13.5, -47.6), (13.9, -48.1), (14.3, -47.6), (15.0, -47.4), (15.5, -47.3), (16.0, -47.5), (16.5, -47.6),
     (17.0, -47.7), (17.5, -48.0), (18.0, -48.4), (18.5, -48.5), (19.0, -48.6), (19.5, -48.6), (20.0, -48.5),
     (20.5, -48.3), (21.0, -48.2), (21.5, -48.3), (22.0, -48.5), (22.5, -48.3), (23.0, -48.3), (23.5, -47.9),
     (24.0, -48.5)],
]
db_a_track_130531 = [
    [(0.0, -48.8), (0.5, -49.2), (1.0, -48.3), (1.5, -48.0), (2.0, -47.8), (2.5, -48.4), (3.0, -48.0),
     (3.5, -48.6), (4.0, -47.8), (4.5, -47.4), (5.0, -48.6), (5.5, -49.6), (6.0, -50.5), (6.3, -51.2),
     (6.6, -49.3), (7.0, -48.0), (7.5, -47.8), (8.0, -47.6), (9.0, -47.7), (10.0, -47.8), (11.0, -47.6),
     (12.0, -47.5), (13.0, -47.6), (14.0, -47.6), (15.0, -47.5), (16.0, -47.5), (17.0, -47.7), (18.0, -47.9),
     (19.0, -47.6), (20.0, -47.5), (21.0, -47.6), (22.0, -47.8), (23.0, -47.6), (23.5, -47.3), (24.0, -47.8)],
]
db_a_track_130601 = [
    [(0.0, -47.2), (0.5, -47.5), (1.0, -46.8), (1.4, -46.2), (1.8, -46.9), (2.2, -47.3), (2.6, -47.8),
     (3.0, -48.1), (3.5, -48.5), (4.0, -48.8), (4.5, -48.2), (5.0, -48.5), (5.5, -49.6), (6.0, -50.3),
     (6.3, -50.8), (6.6, -49.2), (7.0, -48.3), (8.0, -48.3), (9.0, -48.5), (10.0, -48.6), (11.0, -48.4),
     (12.0, -48.2), (13.0, -48.3), (14.0, -48.4), (15.0, -48.4), (16.0, -48.5), (17.0, -48.7), (18.0, -48.8),
     (19.0, -48.6), (20.0, -48.7), (21.0, -48.5), (22.0, -48.2), (22.5, -47.6), (23.0, -47.2), (23.5, -46.8),
     (24.0, -46.5)],
]
db_a_track_130602 = [
    [(0.0, -46.6), (0.5, -47.0), (1.0, -46.4), (1.5, -46.0), (2.0, -46.8), (2.5, -47.2), (3.0, -47.0),
     (3.5, -47.5), (4.0, -47.2), (4.5, -47.8), (5.0, -48.4), (5.5, -49.2), (6.0, -49.8), (6.3, -50.3),
     (6.6, -49.0), (7.0, -47.9), (7.5, -47.6), (8.0, -47.4), (9.0, -47.2), (10.0, -47.1), (11.0, -47.2),
     (12.0, -47.3), (13.0, -47.2), (14.0, -47.3), (15.0, -47.4), (16.0, -47.5), (17.0, -47.8), (18.0, -48.3),
     (19.0, -48.6), (20.0, -48.8), (21.0, -48.5), (22.0, -48.0), (22.5, -47.2), (22.8, -46.4), (23.2, -47.2),
     (23.6, -47.0), (24.0, -47.6)],
]
db_a_track_130603 = [
    [(0.0, -46.0), (0.3, -45.7), (0.6, -45.9), (0.9, -46.2), (1.2, -46.8), (1.6, -47.2), (2.0, -47.5),
     (2.5, -47.8), (3.0, -47.5), (3.5, -47.8), (4.0, -47.6), (4.5, -48.0), (5.0, -48.5), (5.5, -49.2),
     (6.0, -49.8), (6.3, -50.2), (6.6, -49.5), (6.9, -48.6)],
    [(7.0, -70.5), (7.3, -70.8), (7.6, -71.3), (7.9, -72.0), (8.2, -72.8), (8.5, -73.5), (8.7, -74.2)],
    [(9.0, -47.8), (10.0, -47.6), (11.0, -47.5), (12.0, -47.6), (13.0, -47.5), (14.0, -47.2), (15.0, -47.3),
     (16.0, -47.5), (17.0, -48.0), (18.0, -48.5), (19.0, -49.0), (20.0, -49.3), (21.0, -49.0), (22.0, -48.5),
     (23.0, -48.3), (24.0, -48.0)],
]
db_a_track_130604 = [
    [(0.0, -49.3), (0.5, -49.8), (1.0, -49.5), (1.5, -48.7), (2.0, -48.2), (3.0, -47.8), (4.0, -46.5),
     (4.5, -46.8), (5.0, -48.0), (5.5, -49.3), (6.0, -50.0), (6.5, -49.0), (7.0, -47.6), (8.0, -47.0),
     (8.8, -47.2)],
    [(9.0, -72.2), (9.4, -73.3), (9.8, -73.6), (10.2, -73.5), (10.6, -73.6), (11.0, -73.4), (11.4, -73.0),
     (11.8, -72.5), (12.0, -72.3)],
    [(13.0, -72.4), (13.4, -73.2), (13.8, -73.6), (14.2, -73.8), (14.6, -73.7), (15.0, -73.5), (15.4, -73.1),
     (15.8, -72.6), (16.0, -72.4)],
    [(17.0, -73.3), (17.4, -72.4), (17.8, -71.7), (18.2, -71.0), (18.6, -70.3), (19.0, -69.3), (19.3, -68.2),
     (19.6, -68.5), (19.95, -68.6)],
    [(21.0, -68.0), (21.4, -68.5), (21.8, -68.9), (22.2, -68.6), (22.6, -68.8), (23.0, -69.6), (23.4, -70.2),
     (23.8, -70.9), (24.0, -71.3)],
]
db_a_track_130605 = [
    [(4.9, -49.4), (5.0, -49.6)],
    [(1.0, -70.0), (1.3, -68.6), (1.6, -67.2), (1.9, -66.0), (2.1, -65.3), (2.4, -65.8), (2.7, -66.5),
     (3.0, -67.2), (3.2, -67.6), (3.5, -67.2), (3.7, -66.6), (3.95, -66.2)],
    [(5.0, -66.7), (5.3, -67.0), (5.6, -67.4), (5.9, -67.8), (6.2, -67.3), (6.5, -68.2), (6.8, -67.6),
     (7.1, -67.2), (7.4, -66.8), (7.7, -66.2), (7.95, -65.6)],
    [(8.95, -69.4), (9.3, -70.5), (9.7, -71.6), (10.0, -72.0), (10.4, -71.4), (10.8, -70.9), (11.2, -70.2),
     (11.6, -69.6), (11.95, -69.0)],
    [(13.0, -69.5), (13.5, -69.9), (14.0, -70.3), (14.5, -70.9), (15.0, -71.2), (15.5, -71.6), (15.9, -72.1)],
    [(17.0, -70.6), (17.3, -69.6), (17.6, -68.6), (17.9, -67.8), (18.2, -67.0), (18.5, -66.4), (18.9, -66.0),
     (19.3, -65.9), (19.6, -66.0), (19.95, -66.0)],
    [(21.0, -65.8), (21.4, -66.7), (21.8, -67.2), (22.2, -67.4), (22.6, -67.8), (23.0, -68.4), (23.4, -69.0),
     (23.8, -69.8), (24.0, -70.2)],
]

db_a_pts_130530 = [(1.0, -53.3), (5.0, -54.7), (3.95, -64.8)]
db_a_pts_130603 = [(7.0, -69.5), (10.1, -73.8)]
db_a_pts_130604 = [(9.1, -53.4), (12.0, -66.8), (13.0, -54.4), (16.0, -67.2), (17.0, -54.3), (20.0, -64.0),
                   (21.0, -54.4), (24.0, -65.5)]
db_a_pts_130605 = [(1.0, -55.2), (5.0, -54.2), (3.95, -62.3), (7.95, -61.4), (9.0, -53.2), (12.0, -64.2),
                   (13.0, -53.3), (16.0, -66.2), (17.0, -53.6), (20.0, -62.0), (21.0, -52.9), (24.0, -64.8)]

db_a_tracks = [db_a_track_130530, db_a_track_130531, db_a_track_130601, db_a_track_130602,
               db_a_track_130603, db_a_track_130604, db_a_track_130605]
db_a_pts = [db_a_pts_130530, [], [], [], db_a_pts_130603, db_a_pts_130604, db_a_pts_130605]

# ---------------- amplitude, 6-12 Jun ----------------
db_b_track_130606 = [
    [(0.0, -47.3), (0.25, -47.8), (0.5, -48.4), (0.75, -48.8), (1.0, -49.2)],
    [(3.85, -47.8), (4.1, -47.2), (4.4, -46.6), (4.7, -47.2), (5.0, -48.0)],
    [(7.86, -48.7), (8.3, -48.4), (8.7, -48.0), (9.07, -47.7)],
    [(12.0, -47.8), (12.4, -47.7), (12.8, -47.7), (13.1, -47.8)],
    [(15.9, -48.0), (16.3, -48.4), (16.7, -48.0), (17.05, -47.8)],
    [(19.9, -48.6), (20.3, -48.2), (20.6, -48.0), (21.05, -48.5)],
    [(23.9, -48.4), (24.0, -48.4)],
    [(1.0, -69.0), (1.3, -68.7), (1.6, -69.8), (1.9, -70.4), (2.2, -69.9), (2.5, -70.6), (2.8, -71.4),
     (3.1, -72.2), (3.4, -71.6), (3.7, -72.1), (4.0, -71.8)],
    [(5.05, -72.0), (5.3, -72.4), (5.6, -72.6), (5.9, -71.6), (6.2, -71.0), (6.5, -72.8), (6.8, -72.4),
     (7.1, -71.6), (7.4, -70.8), (7.7, -70.2), (8.0, -69.8)],
    [(9.0, -68.0), (9.3, -68.9), (9.6, -69.9), (9.9, -70.8), (10.2, -71.8), (10.5, -71.3), (10.8, -70.7),
     (11.1, -70.2), (11.4, -70.0), (11.7, -69.8), (12.0, -70.2)],
    [(13.0, -68.2), (13.3, -68.0), (13.6, -67.4), (13.9, -67.8), (14.2, -68.2), (14.5, -68.4), (14.8, -68.8),
     (15.1, -69.3), (15.4, -69.6), (15.7, -69.8), (16.0, -70.2)],
    [(17.0, -70.6), (17.3, -70.8), (17.6, -70.2), (17.9, -69.8), (18.2, -69.5), (18.5, -68.9), (18.8, -68.2),
     (19.1, -67.6), (19.4, -67.9), (19.7, -68.4), (19.95, -68.0)],
    [(21.0, -67.8), (21.3, -68.3), (21.6, -68.0), (21.9, -67.6), (22.2, -68.5), (22.5, -69.2), (22.8, -69.6),
     (23.1, -70.6), (23.4, -71.4), (23.7, -72.2), (24.0, -73.0)],
]
db_b_track_130607 = [
    [(0.0, -47.7), (0.3, -48.3), (0.6, -48.8), (1.0, -49.3)],
    [(3.85, -48.0), (4.2, -48.3), (4.6, -49.0), (5.0, -49.6)],
    [(7.86, -47.4), (8.3, -47.5), (8.7, -47.4), (9.07, -47.7)],
    [(12.0, -46.9), (12.4, -47.0), (12.8, -47.0), (13.1, -47.2)],
    [(15.9, -47.4), (16.3, -47.6), (16.7, -47.5), (17.05, -47.7)],
    [(19.9, -47.6), (20.3, -47.8), (20.7, -47.7), (21.05, -47.9)],
    [(23.9, -47.2), (24.0, -47.2)],
    [(1.0, -67.2), (1.3, -66.8), (1.6, -67.3), (1.9, -67.6), (2.2, -67.4), (2.5, -67.9), (2.8, -68.2),
     (3.1, -69.2), (3.4, -70.2), (3.7, -70.7), (4.0, -69.2)],
    [(5.05, -74.8), (5.4, -75.5), (5.8, -76.0), (6.1, -76.0)],
    [(9.0, -74.5), (9.4, -75.5), (9.8, -75.8), (10.2, -75.6), (10.6, -75.8), (11.0, -75.0), (11.4, -74.0),
     (11.8, -73.0), (12.0, -72.5)],
    [(13.0, -72.0), (13.5, -71.8), (14.0, -72.2), (14.5, -72.8), (15.0, -73.0), (15.5, -72.5), (16.0, -72.9)],
    [(17.0, -72.8), (17.4, -72.0), (17.8, -71.4), (18.2, -70.8), (18.6, -70.5), (19.0, -70.0), (19.4, -69.3),
     (19.8, -68.3), (19.95, -68.6)],
    [(21.0, -65.8), (21.3, -66.2), (21.6, -66.8), (21.9, -67.4), (22.2, -67.8), (22.5, -66.0), (22.8, -65.5),
     (23.1, -66.4), (23.4, -67.2), (23.7, -68.5), (24.0, -70.0)],
]
db_b_track_130608 = [
    [(0.0, -47.8), (0.4, -47.6), (0.8, -47.3), (1.1, -48.0)],
    [(3.85, -47.6), (4.2, -47.0), (4.6, -47.3), (5.0, -48.2)],
    [(8.3, -48.7), (8.7, -49.3), (9.07, -48.9)],
    [(12.0, -47.9), (12.5, -47.9), (13.1, -48.0)],
    [(19.9, -48.4), (20.4, -48.6), (21.05, -48.6)],
    [(23.9, -47.7), (24.0, -47.7)],
    [(1.0, -67.5), (1.4, -66.8), (1.8, -66.2), (2.2, -65.9), (2.5, -65.6), (2.8, -66.6), (3.1, -67.8),
     (3.4, -69.0), (3.7, -70.2), (4.0, -70.8)],
    [(5.05, -74.0), (5.4, -74.6), (5.7, -75.0), (6.0, -73.6), (6.3, -72.9), (6.6, -72.0), (6.9, -70.8),
     (7.2, -69.6), (7.5, -71.0), (7.8, -70.2), (8.0, -70.8)],
    [(9.0, -71.5), (9.4, -72.0), (9.8, -72.5), (10.2, -73.0), (10.6, -72.0), (11.0, -70.8), (11.4, -70.3),
     (11.8, -70.0), (12.0, -70.5)],
    [(13.0, -67.6), (13.4, -67.3), (13.8, -67.5), (14.2, -67.8), (14.6, -68.0), (15.0, -68.4), (15.4, -68.8),
     (15.8, -69.3), (16.0, -69.8)],
    [(17.0, -69.5), (17.5, -69.8), (18.0, -69.2), (18.5, -68.4), (19.0, -67.8), (19.5, -67.2), (19.95, -67.0)],
    [(21.0, -67.0), (21.5, -67.5), (22.0, -68.0), (22.5, -68.5), (23.0, -69.2), (23.5, -70.0), (24.0, -70.8)],
]
db_b_track_130609 = [
    [(0.0, -48.2), (0.5, -48.6), (1.0, -48.8)],
    [(3.85, -48.3), (4.4, -48.6), (5.0, -48.9)],
    [(12.0, -48.1), (12.5, -48.0), (13.1, -48.1)],
    [(15.9, -48.7), (16.4, -49.2), (17.05, -48.9)],
    [(19.9, -49.0), (20.5, -49.2), (21.05, -49.1)],
    [(1.0, -68.5), (1.5, -69.2), (2.0, -69.8), (2.5, -69.5), (3.0, -71.0), (3.5, -72.3), (3.8, -72.8), (4.0, -72.0)],
    [(5.05, -71.0), (5.5, -71.6), (6.0, -71.2), (6.5, -72.5), (7.0, -71.8), (7.5, -70.5), (8.0, -70.0)],
    [(9.0, -71.0), (9.5, -72.0), (10.0, -72.5), (10.5, -72.0), (11.0, -71.5), (11.5, -71.0), (12.0, -71.5)],
    [(13.0, -70.6), (13.5, -70.8), (14.0, -71.2), (14.5, -70.8), (15.0, -71.3), (15.5, -71.0), (16.0, -71.6)],
    [(17.0, -70.3), (17.5, -70.0), (18.0, -69.4), (18.5, -69.0), (19.0, -68.4), (19.5, -68.0), (19.95, -67.8)],
    [(21.0, -67.5), (21.5, -68.0), (22.0, -68.2), (22.5, -68.8), (23.0, -69.5), (23.5, -70.5), (24.0, -71.5)],
]
db_b_track_130610 = [
    [(0.4, -48.7), (0.7, -49.5), (1.0, -50.3)],
    [(4.4, -50.0), (4.7, -50.5), (5.0, -51.0)],
    [(1.0, -68.3), (1.5, -67.5), (2.0, -67.2), (2.5, -67.0), (3.0, -67.5), (3.3, -68.0), (3.6, -68.7), (3.9, -69.5)],
    [(5.05, -68.2), (5.4, -67.8), (5.8, -67.3), (6.2, -66.6), (6.5, -65.2), (6.8, -65.0), (7.1, -64.2),
     (7.4, -63.2), (7.7, -64.5), (8.0, -66.5), (8.4, -68.5), (8.8, -69.8), (9.2, -70.5), (9.5, -71.0),
     (10.0, -72.0), (10.5, -72.5), (11.0, -71.5), (11.5, -70.5), (12.0, -70.8)],
    [(13.0, -70.0), (13.5, -69.8), (14.0, -69.6), (14.5, -70.0), (15.0, -70.3), (15.5, -70.0), (16.0, -70.6)],
    [(17.0, -70.0), (17.5, -69.6), (18.0, -69.0), (18.5, -68.6), (19.0, -68.0), (19.5, -67.6), (19.95, -67.5)],
    [(21.0, -63.8), (21.3, -63.8), (21.6, -64.2), (21.9, -64.8), (22.2, -65.6), (22.5, -66.4), (22.8, -67.2),
     (23.1, -68.2), (23.4, -69.0), (23.7, -70.0), (24.0, -71.0)],
]
db_b_track_130611 = [
    [(0.0, -48.0), (0.5, -48.8), (1.0, -49.5)],
    [(4.4, -48.6), (4.7, -49.2), (5.0, -49.8)],
    [(1.0, -68.0), (1.4, -66.5), (1.8, -65.8), (2.2, -65.5), (2.5, -65.0), (2.8, -65.6), (3.1, -66.4),
     (3.4, -68.0), (3.7, -69.3), (4.0, -68.5)],
    [(5.05, -71.0), (5.4, -70.8), (5.8, -70.2), (6.2, -69.0), (6.5, -68.0), (6.8, -67.2), (7.1, -66.5),
     (7.3, -65.8), (7.6, -68.0), (7.9, -69.8)],
    [(9.0, -72.5), (9.5, -73.5), (10.0, -74.0), (10.5, -73.8), (11.0, -73.2), (11.5, -72.5), (12.0, -72.0)],
    [(13.0, -71.8), (13.5, -72.0), (14.0, -72.4), (14.5, -72.2), (15.0, -72.8), (15.5, -72.3), (16.0, -72.6)],
    [(17.0, -69.5), (17.3, -68.6), (17.6, -67.6), (17.9, -67.0), (18.2, -66.5), (18.5, -66.0), (18.8, -65.6),
     (19.1, -64.8), (19.4, -64.2), (19.7, -63.8), (19.95, -64.6)],
    [(21.0, -65.0), (21.5, -66.0), (22.0, -67.0), (22.5, -67.5), (23.0, -68.5), (23.5, -70.0), (24.0, -72.0)],
]
db_b_track_130612 = [
    [(0.0, -48.3), (0.5, -48.6), (1.0, -48.8)],
    [(4.4, -50.3), (4.6, -51.0), (4.8, -51.8), (5.05, -52.5)],
    [(1.0, -72.2), (1.3, -71.8), (1.6, -71.2), (1.9, -70.7), (2.2, -70.5)],
    [(9.0, -73.0), (9.5, -73.8), (10.0, -74.2), (10.5, -74.0), (11.0, -73.5), (11.5, -73.0), (12.0, -72.5)],
    [(13.0, -72.3), (13.5, -72.5), (14.0, -72.8), (14.5, -73.5), (14.8, -74.0), (15.1, -74.6), (15.4, -73.8),
     (15.7, -73.2), (16.0, -73.4)],
    [(17.0, -70.0), (17.5, -69.2), (18.0, -68.2), (18.5, -67.2), (19.0, -66.6), (19.5, -66.2), (19.95, -66.0)],
    [(21.0, -63.6), (21.3, -63.4), (21.6, -64.0), (21.9, -64.8), (22.2, -65.8), (22.5, -66.6), (22.8, -67.4),
     (23.1, -68.2), (23.4, -68.8), (23.7, -69.4), (24.0, -70.0)],
]

db_b_pts_130606 = [(1.0, -54.4), (9.0, -53.3), (3.95, -66.9), (7.95, -64.5), (15.95, -64.6), (19.9, -64.0), (23.9, -67.1)]
db_b_pts_130607 = [(1.0, -53.3), (21.0, -52.7), (3.95, -64.6), (11.95, -66.8), (15.95, -66.7), (19.9, -63.4),
                   (23.9, -64.9), (6.5, -75.8), (6.8, -75.5), (7.5, -75.9), (7.8, -75.6), (8.0, -75.7)]
db_b_pts_130608 = [(1.0, -53.0), (13.0, -53.1), (3.95, -66.3), (7.95, -66.1), (11.95, -64.0), (15.95, -64.0),
                   (19.9, -63.0)]
db_b_pts_130609 = [(1.0, -53.6), (7.95, -49.7), (7.95, -65.5), (11.95, -64.5), (19.9, -62.6)]
db_b_pts_130610 = [(1.0, -55.1), (9.5, -49.0), (9.5, -49.3), (21.0, -53.0), (9.5, -64.0), (11.95, -65.1),
                   (15.95, -65.7), (23.9, -64.2)]
db_b_pts_130611 = [(1.0, -55.4), (11.9, -49.5), (3.95, -63.8), (11.95, -65.6), (15.95, -65.3), (19.9, -60.5),
                   (23.9, -65.8)]
db_b_pts_130612 = [(1.0, -56.3), (5.0, -58.0), (11.5, -48.4), (11.95, -66.2), (15.95, -66.9), (19.9, -62.2),
                   (23.9, -63.5)]

db_b_tracks = [db_b_track_130606, db_b_track_130607, db_b_track_130608, db_b_track_130609,
               db_b_track_130610, db_b_track_130611, db_b_track_130612]
db_b_pts = [db_b_pts_130606, db_b_pts_130607, db_b_pts_130608, db_b_pts_130609,
            db_b_pts_130610, db_b_pts_130611, db_b_pts_130612]


def px(x, y):
    """pixel position (from top-left) -> figure fraction"""
    return x / W, 1 - y / H


MARK = dict(ls='none', marker='P', ms=6.5, mew=0.7, zorder=2)


def draw_tracks(ax, segs, color, lw):
    for seg in segs:
        t, v = zip(*seg)
        ax.plot(t, v, color=color, lw=lw, solid_capstyle='round', solid_joinstyle='round', zorder=2)


def draw_points(ax, pts, color):
    if not pts:
        return
    t, v = zip(*pts)
    ax.plot(t, v, color=color, mec=color, **MARK)


def style_axes(ax, ylim, yticks, yminor):
    ax.set_xlim(0, 24)
    ax.set_ylim(*ylim)
    ax.xaxis.set_major_locator(MultipleLocator(4))
    ax.xaxis.set_minor_locator(MultipleLocator(1))
    ax.yaxis.set_major_locator(FixedLocator(yticks))
    ax.yaxis.set_minor_locator(MultipleLocator(yminor))
    ax.tick_params(which='both', direction='out', top=True, right=True, labelsize=14, pad=3.5)
    ax.tick_params(which='major', length=3, width=1)
    ax.tick_params(which='minor', length=2, width=0.8)
    for s in ax.spines.values():
        s.set_linewidth(1.0)


def add_legend(labels, unit, x_mark, x_text, y0):
    for i, (lab, c) in enumerate(zip(labels, series_colors)):
        y = y0 + 24.2 * i
        mx, my = px(x_mark, y)
        fig.add_artist(Line2D([mx], [my], marker='P', ms=4.8, mew=0.5, color=c, mec=c,
                              ls='none', transform=fig.transFigure))
        fig.text(*px(x_text, y), f'{unit} {lab}', fontsize=10.5, va='center', ha='left')


def add_title(line1_xy, line2_xy, line2, box=None):
    if box is not None:
        x0, y0, x1, y1 = box
        fig.add_artist(Rectangle(px(x0, y1), (x1 - x0) / W, (y1 - y0) / H, transform=fig.transFigure,
                                 facecolor='white', edgecolor='none', zorder=4))
    fig.text(*px(*line1_xy), 'JXN (16.4 kHz) -> St Johns, NL', fontsize=14, ha='center', va='center', zorder=5)
    fig.text(*px(*line2_xy), line2, fontsize=14, ha='center', va='center', zorder=5)


fig = plt.figure(figsize=(W / 100, H / 100), dpi=100)

ax1 = fig.add_axes([53 / W, 1 - 343 / H, 422 / W, 330 / H])
ax2 = fig.add_axes([53 / W, 1 - 738 / H, 422 / W, 327 / H])
ax3 = fig.add_axes([63 / W, 1 - 1130 / H, 398 / W, 320 / H])
ax4 = fig.add_axes([63 / W, 1 - 1517 / H, 398 / W, 322 / H])

# later days first so that the first day ends up on top
order = range(6, -1, -1)

for i in order:
    c = series_colors[i]
    draw_points(ax1, deg_a_pts[i], c)
    draw_tracks(ax1, deg_a_tracks[i], c, 5.5)

for i in order:
    c = series_colors[i]
    for (a, b), vals in zip(deg_b_spans, deg_b_scatter[i]):
        n = len(vals)
        t = [a + (k + 0.5) * (b - a) / n for k in range(n)]
        ax2.plot(t, vals, color=c, mec=c, **MARK)
    draw_points(ax2, deg_b_pts[i], c)
    draw_tracks(ax2, deg_b_tracks[i], c, 5.5)

for i in order:
    c = series_colors[i]
    draw_points(ax3, db_a_pts[i], c)
    draw_tracks(ax3, db_a_tracks[i], c, 7)

for i in order:
    c = series_colors[i]
    draw_points(ax4, db_b_pts[i], c)
    draw_tracks(ax4, db_b_tracks[i], c, 7)

style_axes(ax1, (-180, 180), deg_yticks, 10)
style_axes(ax2, (-180, 180), deg_yticks, 10)
style_axes(ax3, (-74, -45), db_a_yticks, 1)
style_axes(ax4, (-76, -45), db_b_yticks, 1)

# axis labels
fig.text(*px(30, 21), 'deg', fontsize=17, ha='center', va='baseline')
fig.text(*px(30, 418), 'deg', fontsize=17, ha='center', va='baseline')
fig.text(*px(44, 820), 'dB', fontsize=17, ha='center', va='baseline')
fig.text(*px(44, 1212), 'dB', fontsize=17, ha='center', va='baseline')
for yy, xx in [(383, 264), (780, 264), (1170, 262), (1557, 262)]:
    fig.text(*px(xx, yy), 'Hours UT', fontsize=17.5, ha='center', va='center')

# titles
add_title((246.5, 105), (253.5, 123), '30 May - 5 Jun 2013 UT', box=(113, 89, 398, 137))
add_title((281, 477), (286, 497), '6-12 Jun 2013 UT', box=(146, 463, 415, 510))
add_title((264, 940), (270, 958), '30 May - 5 Jun 2013 UT')
add_title((275.5, 1295), (279.5, 1315), '6-12 Jun 2013 UT')

# legends
add_legend(days_a, 'deg', 501, 527, 115)
add_legend(days_b, 'deg', 501, 527, 508)
add_legend(days_a, 'dB', 490, 515, 905)
add_legend(days_b, 'dB', 490, 515, 1292)

fig.savefig('out.png', dpi=100)
